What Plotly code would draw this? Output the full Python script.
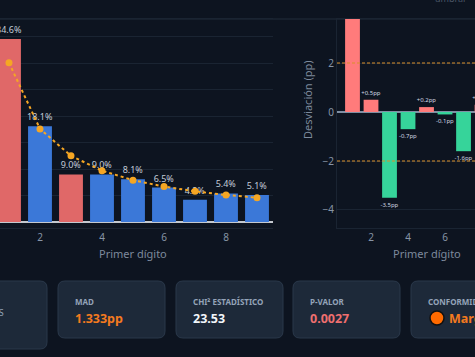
import plotly.graph_objects as go
from plotly.subplots import make_subplots

# ---------------- data ----------------
digits = [1, 2, 3, 4, 5, 6, 7, 8, 9]
observed = [34.6, 18.1, 9.0, 9.0, 8.1, 6.5, 4.2, 5.4, 5.1]
expected = [30.1, 17.6, 12.5, 9.7, 7.9, 6.7, 5.8, 5.1, 4.6]
deviation = [4.5, 0.5, -3.5, -0.7, 0.2, -0.1, -1.6, 0.3, 0.5]
threshold = 2

card_labels = ["MAD", "CHI² ESTADÍSTICO", "P-VALOR", "CONFORMIDAD"]
card_values = ["1.333pp", "23.53", "0.0027", "Marginal"]
card_value_colors = ["#f47a1f", "#f1f5f9", "#ef6f6f", "#f47a1f"]
first_card_label = "REGISTROS"

# ---------------- style ----------------
W, H = 475, 357
BG = "#0d1420"
CARD = "#1d2939"
CARD_BORDER = "#2a384a"
GRID = "#1a2432"
TICK = "#8794a6"
FONT = "Noto Sans, sans-serif"
RED_L = "#e06868"
BLUE = "#3b78d8"
RED_R = "#ff7b7b"
GREEN = "#36d49a"
ORANGE = "#f5a623"


def px(x):
    return x / W


def py(y):
    return 1 - y / H


fig = make_subplots(rows=1, cols=2)

bar_colors = [RED_L if abs(d) > threshold else BLUE for d in deviation]
fig.add_trace(go.Bar(
    x=digits, y=observed, marker=dict(color=bar_colors, line=dict(width=0)),
    text=[f"{v:.1f}%" for v in observed], textposition="outside",
    textfont=dict(size=9, color="#c3ccd8", family=FONT),
    constraintext="none", cliponaxis=False, width=0.77, showlegend=False,
), row=1, col=1)
fig.add_trace(go.Scatter(
    x=digits, y=expected, mode="lines+markers",
    line=dict(color=ORANGE, width=2, dash="dot"),
    marker=dict(color=ORANGE, size=7), showlegend=False,
), row=1, col=1)

dev_colors = [RED_R if d > 0 else GREEN for d in deviation]
fig.add_trace(go.Bar(
    x=digits, y=deviation, marker=dict(color=dev_colors, line=dict(width=0)),
    text=[f"{d:+.1f}pp" for d in deviation], textposition="outside",
    textfont=dict(size=6, color="#d0d7e0", family=FONT),
    constraintext="none", width=0.8, showlegend=False,
), row=1, col=2)

ydom = [py(228), py(19)]
fig.update_xaxes(domain=[0, px(272.5)], range=[0.71, 9.5], tickvals=[2, 4, 6, 8],
                 showgrid=False, zeroline=False, showline=True, mirror=True,
                 linecolor=GRID, tickfont=dict(size=10, color=TICK, family=FONT),
                 ticks="", row=1, col=1)
fig.update_yaxes(domain=ydom, range=[-1.134, 38.37], dtick=5, showgrid=True,
                 gridcolor=GRID, gridwidth=1, zeroline=True, zerolinecolor="#c4c9d0",
                 zerolinewidth=2, showticklabels=False, showline=False, row=1, col=1)
fig.update_xaxes(domain=[px(337), 1], range=[0.162, 7.62], tickvals=[2, 4, 6, 8],
                 showgrid=False, zeroline=False, showline=True, mirror=True,
                 linecolor=GRID, tickfont=dict(size=10, color=TICK, family=FONT),
                 ticks="", row=1, col=2)
fig.update_yaxes(domain=ydom, range=[-4.735, 3.796], tickvals=[-4, -2, 0, 2],
                 ticktext=["−4", "−2", "0", "2"], showgrid=True, gridcolor=GRID,
                 zeroline=True, zerolinecolor="#7f8fa3", zerolinewidth=1.5,
                 showline=True, mirror=True, linecolor=GRID,
                 tickfont=dict(size=10, color=TICK, family=FONT), ticks="", row=1, col=2)

shapes = []
for lvl in (threshold, -threshold):
    shapes.append(dict(type="line", xref="x2 domain", x0=0, x1=1, yref="y2", y0=lvl, y1=lvl,
                       line=dict(color="#d98f2a", width=1.2, dash="3px,2px"), layer="above"))
shapes.append(dict(type="line", xref="paper", x0=0, x1=1, yref="paper", y0=py(19), y1=py(19),
                   line=dict(color="#1b2532", width=1.5), layer="below"))


def rounded(x0, y0, x1, y1, r=7):
    rx, ry = r / W, r / H
    X0, X1 = px(x0), px(x1)
    Yt, Yb = py(y0), py(y1)
    return (f"M {X0+rx},{Yt} L {X1-rx},{Yt} Q {X1},{Yt} {X1},{Yt-ry} "
            f"L {X1},{Yb+ry} Q {X1},{Yb} {X1-rx},{Yb} L {X0+rx},{Yb} "
            f"Q {X0},{Yb} {X0},{Yb+ry} L {X0},{Yt-ry} Q {X0},{Yt} {X0+rx},{Yt} Z")


card_boxes = [(-61, 281, 47, 349)] + [(x0, 281, x0 + 107, 338) for x0 in (58, 176, 293, 411)]
for (a, b, c, d) in card_boxes:
    shapes.append(dict(type="path", xref="paper", yref="paper", path=rounded(a, b, c, d),
                       fillcolor=CARD, line=dict(color=CARD_BORDER, width=1), layer="below"))

annotations = []
annotations.append(dict(text=first_card_label, x=px(6), y=py(312), xref="paper", yref="paper",
                        xanchor="right", yanchor="middle", showarrow=False,
                        font=dict(size=9, color="#94a3b8", family=FONT)))
for i, (lab, val, col) in enumerate(zip(card_labels, card_values, card_value_colors)):
    x0 = card_boxes[i + 1][0] + 15
    annotations.append(dict(text=f"<b>{lab}</b>", x=px(x0), y=py(301), xref="paper", yref="paper",
                            xanchor="left", yanchor="middle", showarrow=False,
                            font=dict(size=8, color="#94a3b8", family=FONT)))
    vx = x0 + (21 if lab == "CONFORMIDAD" else 0)
    annotations.append(dict(text=f"<b>{val}</b>", x=px(vx), y=py(318), xref="paper", yref="paper",
                            xanchor="left", yanchor="middle", showarrow=False,
                            font=dict(size=12.5, color=col, family=FONT)))
# status dot in conformity card
cx, cy, r = 437, 318, 7
shapes.append(dict(type="circle", xref="paper", yref="paper", x0=px(cx - r), x1=px(cx + r),
                   y0=py(cy + r), y1=py(cy - r), fillcolor="#ff6a00",
                   line=dict(color="#111111", width=1.5)))

annotations += [
    dict(text="Primer dígito", x=px(133), y=py(253), xref="paper", yref="paper",
         xanchor="center", yanchor="middle",
         showarrow=False, font=dict(size=11, color="#7d8a9c", family=FONT)),
    dict(text="Primer dígito", x=px(427), y=py(253), xref="paper", yref="paper",
         xanchor="center", yanchor="middle",
         showarrow=False, font=dict(size=11, color="#7d8a9c", family=FONT)),
    dict(text="Desviación (pp)", x=px(307), y=py(100), xref="paper", yref="paper",
         xanchor="center", yanchor="middle",
         textangle=-90, showarrow=False, font=dict(size=11, color="#7d8a9c", family=FONT)),
    dict(text="umbral", x=px(450), y=py(-2), xref="paper", yref="paper",
         xanchor="center", yanchor="middle",
         showarrow=False, font=dict(size=9, color="#4a5566", family=FONT)),
]

fig.update_layout(
    width=W, height=H, margin=dict(l=0, r=0, t=0, b=0),
    paper_bgcolor=BG, plot_bgcolor=BG, bargap=0.2,
    shapes=shapes, annotations=annotations, showlegend=False,
    font=dict(family=FONT, color=TICK),
)

fig.write_html("out.html")
